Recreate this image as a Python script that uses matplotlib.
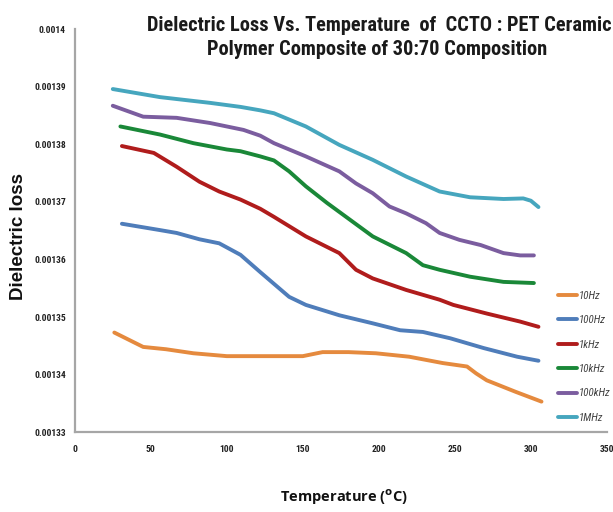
import matplotlib.pyplot as plt

# temperature (deg C) / dielectric loss readings for each frequency
t_10hz = [26, 45, 60, 78, 100, 125, 150, 163, 180, 198, 220, 242, 258, 264, 271, 290, 307]
loss_10hz = [0.0013473, 0.0013448, 0.0013444, 0.0013437, 0.0013432, 0.0013432, 0.0013432,
             0.0013439, 0.0013439, 0.0013437, 0.0013431, 0.0013420, 0.0013414, 0.0013402,
             0.0013390, 0.0013370, 0.0013353]

t_100hz = [31, 56, 67, 82, 95, 109, 122, 141, 152, 174, 196, 214, 229, 247, 269, 291, 305]
loss_100hz = [0.0013662, 0.0013651, 0.0013646, 0.0013635, 0.0013628, 0.0013608, 0.0013578,
              0.0013535, 0.0013521, 0.0013503, 0.0013489, 0.0013477, 0.0013474, 0.0013463,
              0.0013446, 0.0013431, 0.0013424]

t_1khz = [31, 52, 67, 82, 95, 109, 122, 131, 152, 174, 185, 196, 218, 240, 249, 271, 293, 305]
loss_1khz = [0.0013797, 0.0013785, 0.0013761, 0.0013735, 0.0013718, 0.0013704, 0.0013688,
             0.0013674, 0.0013640, 0.0013611, 0.0013582, 0.0013567, 0.0013547, 0.0013530,
             0.0013521, 0.0013506, 0.0013492, 0.0013483]

t_10khz = [30, 56, 78, 100, 109, 122, 131, 141, 152, 166, 181, 196, 218, 229, 240, 260, 282, 302]
loss_10khz = [0.0013831, 0.0013817, 0.0013802, 0.0013791, 0.0013788, 0.0013779, 0.0013772,
              0.0013753, 0.0013727, 0.0013698, 0.0013669, 0.0013640, 0.0013611, 0.0013590,
              0.0013582, 0.0013570, 0.0013561, 0.0013559]

t_100khz = [25, 45, 67, 89, 111, 122, 131, 152, 174, 185, 196, 207, 218, 231, 240, 253, 267, 282, 293, 302]
loss_100khz = [0.0013867, 0.0013848, 0.0013846, 0.0013837, 0.0013825, 0.0013815, 0.0013802,
               0.0013779, 0.0013753, 0.0013732, 0.0013715, 0.0013692, 0.0013680, 0.0013663,
               0.0013646, 0.0013634, 0.0013625, 0.0013611, 0.0013607, 0.0013607]

t_1mhz = [25, 56, 89, 109, 122, 131, 152, 174, 196, 218, 240, 260, 282, 295, 300, 305]
loss_1mhz = [0.0013896, 0.0013882, 0.0013872, 0.0013865, 0.0013859, 0.0013854, 0.0013831,
             0.0013799, 0.0013773, 0.0013744, 0.0013718, 0.0013708, 0.0013705, 0.0013706,
             0.0013702, 0.0013691]

labels = ['10Hz', '100Hz', '1kHz', '10kHz', '100kHz', '1MHz']
colors = ['#E58A3E', '#4F7DBA', '#B01C1C', '#1A8838', '#7B5D9F', '#46A6BE']

x_ticks = [0, 50, 100, 150, 200, 250, 300, 350]
y_ticks = [0.00133, 0.00134, 0.00135, 0.00136, 0.00137, 0.00138, 0.00139, 0.0014]
y_tick_labels = ['0.00133', '0.00134', '0.00135', '0.00136', '0.00137', '0.00138', '0.00139', '0.0014']

narrow = 'Roboto Condensed'

fig = plt.figure(figsize=(6.13, 5.12), dpi=100)
ax = fig.add_axes([0.122, 0.156, 0.868, 0.787])

series = [(t_10hz, loss_10hz), (t_100hz, loss_100hz), (t_1khz, loss_1khz),
          (t_10khz, loss_10khz), (t_100khz, loss_100khz), (t_1mhz, loss_1mhz)]
for (t, loss), lab, col in zip(series, labels, colors):
    ax.plot(t, loss, color=col, lw=2.8, label=lab, solid_capstyle='round', solid_joinstyle='round')

ax.set_xlim(0, 350)
ax.set_ylim(0.00133, 0.0014)
ax.set_xticks(x_ticks)
ax.set_xticklabels([str(v) for v in x_ticks], family=narrow, fontsize=6.8, fontweight='bold', color='#222222')
ax.set_yticks(y_ticks)
ax.set_yticklabels(y_tick_labels, family=narrow, fontsize=6.8, fontweight='bold', color='#222222')
ax.tick_params(length=0, pad=6.5)
ax.tick_params(axis='x', pad=9)

for s in ['top', 'right']:
    ax.spines[s].set_visible(False)
for s in ['left', 'bottom']:
    ax.spines[s].set_color('#A6A6A6')
    ax.spines[s].set_linewidth(1.6)

leg = ax.legend(loc='upper left', bbox_to_anchor=(0.89, 0.375), frameon=False,
                handlelength=1.75, handletextpad=0.2, labelspacing=1.33,
                prop={'family': narrow, 'style': 'italic', 'size': 7.8})
for txt in leg.get_texts():
    txt.set_color('#404040')

fig.text(0.618, 0.9395, 'Dielectric Loss Vs. Temperature  of  CCTO : PET Ceramic',
         ha='center', va='baseline', family=narrow, fontweight='bold', fontsize=14.7, color='#1A1A1A')
fig.text(0.615, 0.8926, 'Polymer Composite of 30:70 Composition',
         ha='center', va='baseline', family=narrow, fontweight='bold', fontsize=14.7, color='#1A1A1A')

fig.text(0.030, 0.539, 'Dielectric loss', rotation=90, ha='center', va='center',
         family='Liberation Sans', fontweight='bold', fontsize=13.5, color='#111111')
fig.text(0.561, 0.029, r'Temperature ($^\mathbf{o}$C)', ha='center', va='center',
         family='Open Sans', fontweight='bold', fontsize=10.5, color='#111111')

fig.savefig('out.png', dpi=100)
